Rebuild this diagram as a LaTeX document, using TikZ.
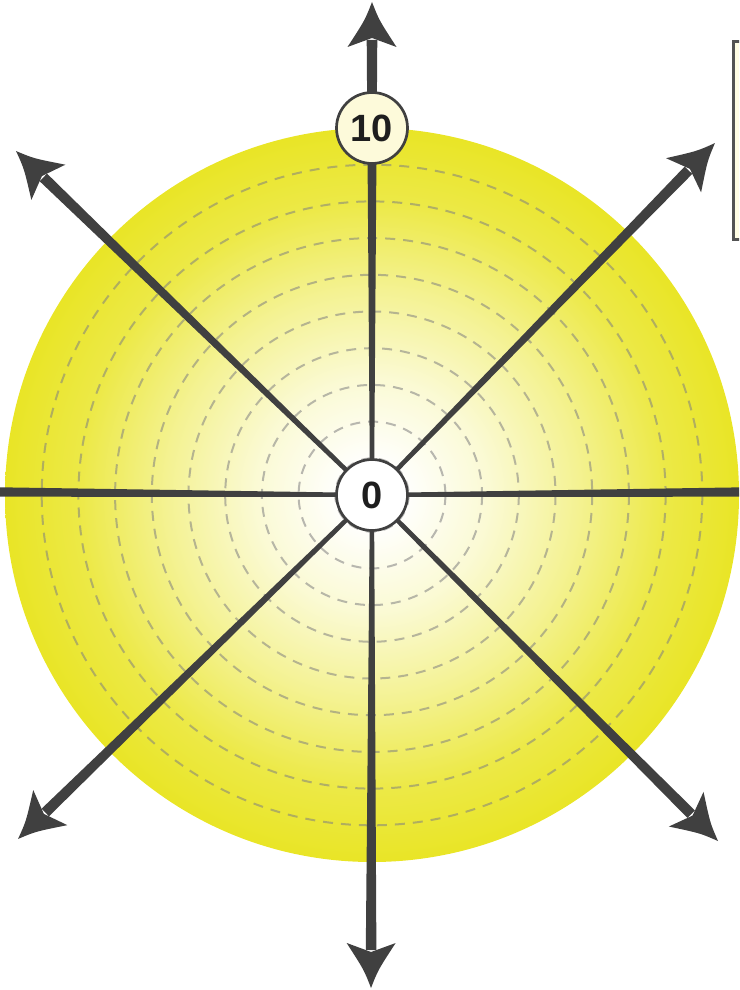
\documentclass[tikz,border=0pt]{standalone}
\usepackage{fontspec}
\setmainfont{Liberation Sans}
\usetikzlibrary{calc}
\definecolor{yel}{RGB}{233,229,38}
\definecolor{axisgray}{RGB}{64,64,64}
\definecolor{txt}{RGB}{30,30,30}
\definecolor{cream}{RGB}{253,250,218}
\definecolor{boxfill}{RGB}{255,253,228}
\pgfdeclareradialshading{ball}{\pgfpoint{0bp}{0bp}}{%
  color(0bp)=(white);
  color(2bp)=(white);
  color(8bp)=(yel!20!white);
  color(14bp)=(yel!50!white);
  color(20bp)=(yel!85!white);
  color(25bp)=(yel);
  color(50bp)=(yel)}
\tikzset{
  numnode/.style={circle, draw=axisgray, line width=2.7pt, minimum size=71pt,
    inner sep=0pt, text=txt, font=\fontsize{38}{38}\selectfont\bfseries},
  ring/.style={draw=gray, draw opacity=0.55, line width=2pt, dash pattern=on 10pt off 8pt},
  axisfill/.style={fill=axisgray},
  legendbox/.style={draw=axisgray!90, line width=3pt, fill=boxfill}
}
\begin{document}
\begin{tikzpicture}[x=1pt,y=-1pt]
\useasboundingbox (0,0) rectangle (739,990);
\clip (0,0) rectangle (739,990);
% disc
\coordinate (o) at (372,495);
\shade[shading=ball] (o) circle[radius=367];
\foreach \k in {1,...,9}{
  \draw[ring] (o) circle[radius=36.7*\k];
}
% tips
\coordinate (tN) at (372,2);
\coordinate (tS) at (371,988);
\coordinate (tW) at (-122,491);
\coordinate (tE) at (866,491);
\coordinate (tNW) at (16,151);
\coordinate (tNE) at (715,143);
\coordinate (tSW) at (18,839);
\coordinate (tSE) at (718,841);
\foreach \t in {tN,tS,tW,tE,tNW,tNE,tSW,tSE}{
  \path let \p1=($(\t)-(o)$) in \pgfextra{%
    \pgfmathsetmacro\ang{atan2(\y1,\x1)}%
    \pgfmathsetmacro\len{veclen(\x1,\y1)}%
    \xdef\gang{\ang}\xdef\glen{\len}};
  \begin{scope}[shift={(o)}, rotate=\gang, x=1pt, y=1pt]
    \fill[axisfill] (0,2) -- (\glen-38,5.3) -- (\glen-38,-5.3) -- (0,-2) -- cycle;
    \fill[axisfill] (\glen,0) .. controls (\glen-18,7) .. (\glen-45,24.5)
       .. controls (\glen-40,12) .. (\glen-36,0)
       .. controls (\glen-40,-12) .. (\glen-45,-24.5)
       .. controls (\glen-18,-7) .. (\glen,0) -- cycle;
  \end{scope}
}
% nodes
\node[numnode, fill=white] (c) at (o) {0};
\node[numnode, fill=cream] (ten) at (372,128) {10};
% legend box (cut off)
\draw[legendbox] (733,42) rectangle (770,239);
\end{tikzpicture}
\end{document}
